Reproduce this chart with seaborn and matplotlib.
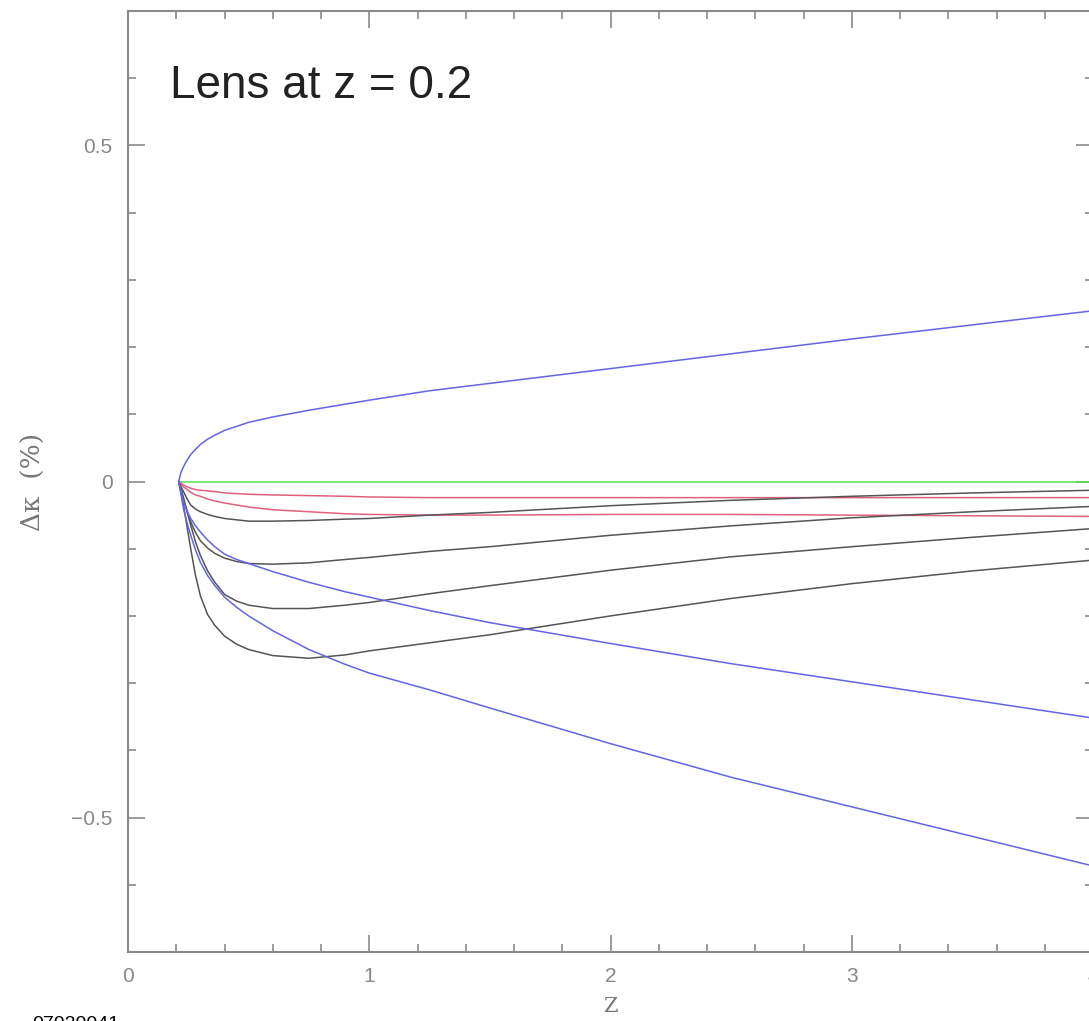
import numpy as np
import pandas as pd
import matplotlib
matplotlib.use('Agg')
import matplotlib.pyplot as plt
import seaborn as sns
from matplotlib.ticker import MultipleLocator

# source redshift grid (lens sits at z = 0.2)
z = [0.21, 0.22, 0.23, 0.245, 0.26, 0.28, 0.30, 0.33, 0.36, 0.40, 0.45, 0.50,
     0.60, 0.75, 0.90, 1.00, 1.25, 1.50, 2.00, 2.50, 3.00, 3.50, 4.00]

# delta kappa (%)
blue_up = [0, 0.014, 0.022, 0.032, 0.040, 0.048, 0.055, 0.063, 0.069, 0.076, 0.082, 0.088,
           0.096, 0.106, 0.115, 0.121, 0.135, 0.146, 0.168, 0.190, 0.212, 0.233, 0.254]
green = [0] * 23
red_1 = [0, -0.003, -0.005, -0.008, -0.010, -0.012, -0.013, -0.014, -0.015, -0.017, -0.018, -0.019,
         -0.020, -0.021, -0.022, -0.023, -0.024, -0.024, -0.024, -0.024, -0.024, -0.024, -0.024]
red_2 = [0, -0.004, -0.008, -0.012, -0.016, -0.020, -0.022, -0.026, -0.029, -0.032, -0.035, -0.038,
         -0.042, -0.045, -0.048, -0.049, -0.050, -0.050, -0.049, -0.049, -0.050, -0.051, -0.052]
black_1 = [0, -0.008, -0.015, -0.026, -0.035, -0.041, -0.045, -0.049, -0.052, -0.055, -0.057, -0.059,
           -0.059, -0.058, -0.056, -0.055, -0.050, -0.046, -0.036, -0.028, -0.022, -0.017, -0.013]
black_2 = [0, -0.012, -0.025, -0.044, -0.060, -0.076, -0.088, -0.099, -0.107, -0.114, -0.119, -0.122,
           -0.123, -0.121, -0.116, -0.113, -0.104, -0.097, -0.080, -0.066, -0.054, -0.045, -0.037]
black_3 = [0, -0.012, -0.025, -0.045, -0.065, -0.090, -0.110, -0.133, -0.150, -0.168, -0.178, -0.184,
           -0.189, -0.189, -0.184, -0.180, -0.167, -0.155, -0.132, -0.112, -0.097, -0.083, -0.070]
black_4 = [0, -0.017, -0.035, -0.068, -0.100, -0.140, -0.170, -0.198, -0.214, -0.230, -0.242, -0.250,
           -0.259, -0.263, -0.258, -0.252, -0.240, -0.228, -0.200, -0.174, -0.152, -0.133, -0.117]
blue_a = [0, -0.015, -0.030, -0.044, -0.055, -0.066, -0.075, -0.087, -0.097, -0.108, -0.116, -0.122,
          -0.134, -0.150, -0.164, -0.172, -0.192, -0.210, -0.241, -0.271, -0.298, -0.325, -0.352]
blue_b = [0, -0.020, -0.040, -0.062, -0.080, -0.102, -0.120, -0.140, -0.155, -0.172, -0.187, -0.200,
          -0.222, -0.250, -0.272, -0.285, -0.310, -0.337, -0.390, -0.440, -0.484, -0.528, -0.572]

curves = {
    'blue_up': blue_up, 'green': green, 'red_1': red_1, 'red_2': red_2,
    'black_1': black_1, 'black_2': black_2, 'black_3': black_3, 'black_4': black_4,
    'blue_a': blue_a, 'blue_b': blue_b,
}
pal = {
    'blue_up': '#6464e6', 'green': '#55e055', 'red_1': '#e0607c', 'red_2': '#e0607c',
    'black_1': '#555555', 'black_2': '#555555', 'black_3': '#555555', 'black_4': '#555555',
    'blue_a': '#6464e6', 'blue_b': '#6464e6',
}

df = pd.concat([pd.DataFrame({'z': z, 'dk': v, 'curve': k}) for k, v in curves.items()])

sns.set_style('ticks')
plt.rcParams['font.family'] = ['Liberation Sans', 'DejaVu Sans']

fig = plt.figure(figsize=(10.89, 10.21), dpi=100)
ax = fig.add_axes([128 / 1089, 1 - 952 / 1021, (1093 - 128) / 1089, (952 - 11) / 1021])

sns.lineplot(data=df, x='z', y='dk', hue='curve', palette=pal, estimator=None,
             linewidth=1.1, legend=False, ax=ax)

ax.set_xlim(0, 4)
ax.set_ylim(-0.7, 0.7)
ax.xaxis.set_minor_locator(MultipleLocator(0.2))
ax.yaxis.set_minor_locator(MultipleLocator(0.1))
ax.set_yticks([-0.5, 0, 0.5])
ax.set_yticklabels(['\u22120.5', '0', '0.5'])
ax.set_xticks([0, 1, 2, 3, 4])
ax.set_xticklabels(['0', '1', '2', '3', '4'])

for s in ax.spines.values():
    s.set_visible(True)
    s.set_color('#8a8a8a')
    s.set_linewidth(1.5)
ax.tick_params(which='both', direction='in', top=True, right=True, colors='#8a8a8a',
               labelcolor='#888888', labelsize=15, width=1.2)
ax.tick_params(which='major', length=12, pad=11)
ax.tick_params(which='minor', length=6)

ax.set_xlabel('Z', family='DejaVu Serif', fontsize=15, color='#777777', labelpad=8)
ax.set_ylabel('\u0394\u03ba  (%)', family='DejaVu Serif', fontsize=19, color='#777777', labelpad=18)

ax.text(0.0435, 0.9075, 'Lens at z = 0.2', transform=ax.transAxes, fontsize=33,
        color='#222222', ha='left', va='baseline')

fig.text(32 / 1089, 1 - 1016 / 1021, '07030041', fontsize=14, color='black', ha='left', va='top')

fig.savefig('out.png', dpi=100)
